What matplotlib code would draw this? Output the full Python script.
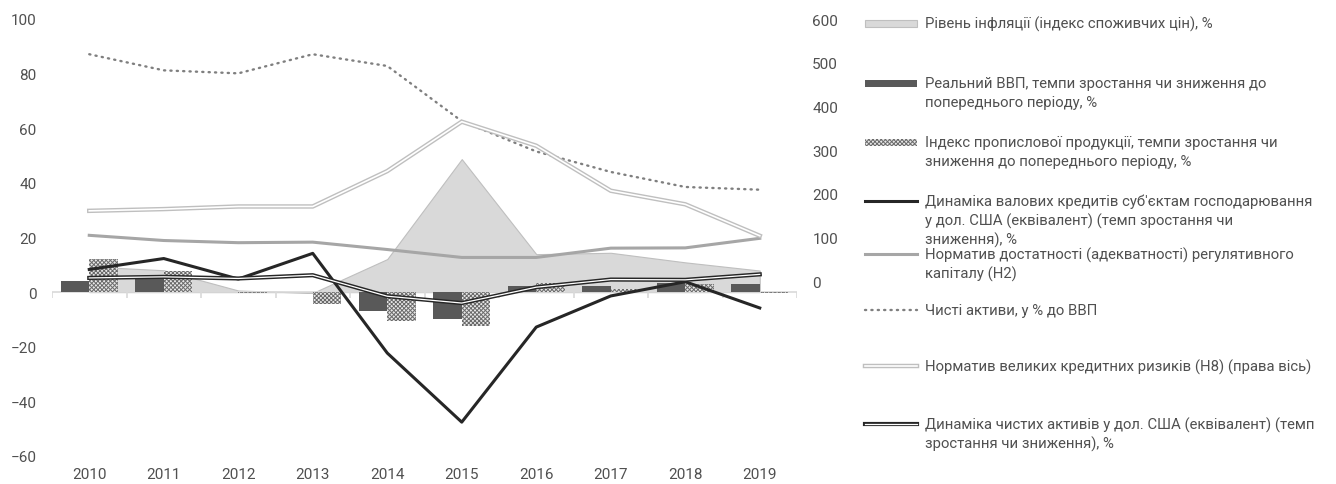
import numpy as np
import matplotlib
matplotlib.use('Agg')
import matplotlib.pyplot as plt
from matplotlib.patches import Rectangle
from matplotlib.lines import Line2D

plt.rcParams['font.family'] = ['Roboto', 'DejaVu Sans']
plt.rcParams['hatch.linewidth'] = 0.7

# дані
years = ['2010', '2011', '2012', '2013', '2014', '2015', '2016', '2017', '2018', '2019']
inflation = [9.4, 8.0, 0.6, -0.3, 12.1, 48.7, 13.9, 14.4, 10.9, 7.9]
gdp = [4.1, 5.3, 0.2, 0.0, -6.8, -9.8, 2.4, 2.4, 3.4, 3.1]
industry = [12.0, 7.6, -0.2, -4.5, -10.5, -12.5, 3.5, 1.0, 2.8, -0.2]
credits_usd = [8.3, 12.3, 4.8, 14.2, -22.3, -47.6, -12.8, -1.4, 3.8, -5.8]
h2 = [20.8, 18.9, 18.1, 18.3, 15.6, 12.7, 12.7, 16.1, 16.2, 19.7]
assets_gdp = [87.1, 81.2, 80.1, 87.1, 82.8, 62.6, 51.5, 44.0, 38.5, 37.5]
h8 = [161, 165, 171, 171, 252, 365, 310, 207, 176, 104]
assets_usd = [5.2, 5.6, 5.0, 6.2, -1.5, -4.0, 1.8, 4.6, 4.5, 6.5]

labels = [
    'Рівень інфляції (індекс споживчих цін), %',
    'Реальний ВВП, темпи зростання чи зниження до\nпопереднього періоду, %',
    'Індекс пропислової продукції, темпи зростання чи\nзниження до попереднього періоду, %',
    "Динаміка валових кредитів суб'єктам господарювання\nу дол. США (еквівалент) (темп зростання чи\nзниження), %",
    'Норматив достатності (адекватності) регулятивного\nкапіталу (Н2)',
    'Чисті активи, у % до ВВП',
    'Норматив великих кредитних ризиків (Н8) (права вісь)',
    'Динаміка чистих активів у дол. США (еквівалент) (темп\nзростання чи зниження), %',
]

W, H = 1336, 485
TXT = '#505050'
HATCH = 'xxxxxxxx'

fig = plt.figure(figsize=(W / 100, H / 100), dpi=100)
ax = fig.add_axes([52 / W, 1 - 457 / H, 745 / W, 437 / H])
x = np.arange(len(years))

# площа інфляції
ax.fill_between(x, 0, inflation, facecolor='#d9d9d9', edgecolor='#bfbfbf', lw=0.8, zorder=1)

# стовпчики
ax.bar(x - 0.19, gdp, width=0.38, color='#595959', zorder=2)
ax.bar(x + 0.19, industry, width=0.38, facecolor='#e8e8e8', edgecolor='#6a6a6a',
       hatch=HATCH, lw=0, zorder=2)

# лінії
ax.plot(x, h2, color='#a6a6a6', lw=2.2, zorder=3)
ax.plot(x, assets_gdp, color='#7f7f7f', lw=1.7, ls=(0, (0.5, 2.2)),
        dash_capstyle='round', zorder=3)
ax.plot(x, credits_usd, color='#262626', lw=2.2, zorder=4)
ax.plot(x, assets_usd, color='#262626', lw=3.0, zorder=4)
ax.plot(x, assets_usd, color='white', lw=0.9, zorder=4)

ax.set_xlim(-0.5, len(years) - 0.5)
ax.set_ylim(-60, 100)
ax.set_yticks(np.arange(-60, 101, 20))
ax.set_xticks(x)
ax.set_xticklabels(years)
ax.tick_params(axis='both', length=0, colors=TXT, labelsize=11)
ax.tick_params(axis='y', pad=11)
ax.tick_params(axis='x', pad=8)
for s in ax.spines.values():
    s.set_visible(False)
ax.axhline(0, color='#d9d9d9', lw=1.2, zorder=1.5)
ax.vlines(np.arange(-0.5, len(years)), -2, 0, color='#d9d9d9', lw=1.2, zorder=1.5)

# права вісь
ax2 = ax.twinx()
ax2.plot(x, h8, color='#bfbfbf', lw=3.2, zorder=3)
ax2.plot(x, h8, color='white', lw=1.2, zorder=3)
ax2.set_ylim(-400, 600)
ax2.set_yticks(np.arange(0, 601, 100))
ax2.tick_params(axis='y', length=0, colors=TXT, labelsize=11, pad=11)
for s in ax2.spines.values():
    s.set_visible(False)


# легенда вручну
def fx(px):
    return px / W


def fy(py):
    return 1 - py / H


entry_y = [24, 84, 143, 202, 255, 311, 367, 425]
hx0, hx1 = 865, 917
for i, (lab, yy) in enumerate(zip(labels, entry_y)):
    if i in (0, 1, 2):
        if i == 0:
            kw = dict(facecolor='#d9d9d9', edgecolor='#bfbfbf', lw=0.8)
        elif i == 1:
            kw = dict(facecolor='#595959', edgecolor='none')
        else:
            kw = dict(facecolor='#e8e8e8', edgecolor='#6a6a6a', hatch=HATCH, lw=0)
        fig.add_artist(Rectangle((fx(hx0), fy(yy + 3.5)), fx(hx1 - hx0), 7 / H,
                                 transform=fig.transFigure, **kw))
    else:
        xs = [fx(hx0), fx(hx1)]
        ys = [fy(yy), fy(yy)]
        if i == 3:
            fig.add_artist(Line2D(xs, ys, color='#262626', lw=2.2))
        elif i == 4:
            fig.add_artist(Line2D(xs, ys, color='#a6a6a6', lw=2.2))
        elif i == 5:
            fig.add_artist(Line2D(xs, ys, color='#7f7f7f', lw=1.7, ls=(0, (0.5, 2.2)),
                                  dash_capstyle='round'))
        elif i == 6:
            fig.add_artist(Line2D(xs, ys, color='#bfbfbf', lw=3.2))
            fig.add_artist(Line2D(xs, ys, color='white', lw=1.2))
        else:
            fig.add_artist(Line2D(xs, ys, color='#262626', lw=3.0))
            fig.add_artist(Line2D(xs, ys, color='white', lw=0.9))
    for k, line in enumerate(lab.split('\n')):
        fig.text(fx(925), fy(yy + 19 * k), line, ha='left', va='center',
                 fontsize=10.7, color=TXT)

fig.savefig('out.png', dpi=100)
